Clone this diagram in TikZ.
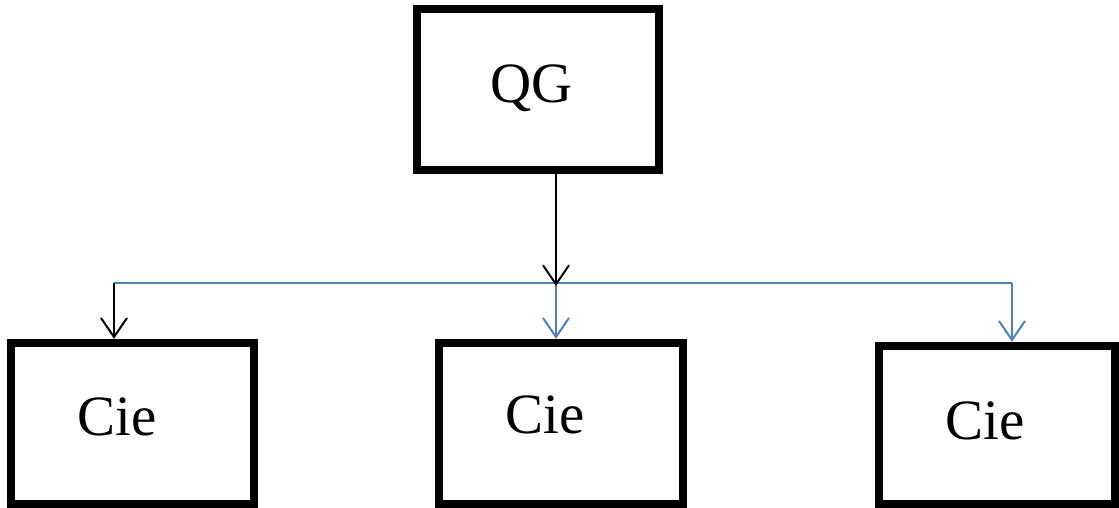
\documentclass[tikz,border=0pt]{standalone}
\usepackage{fontspec}
\setmainfont{Liberation Serif}
\usetikzlibrary{arrows.meta}
\definecolor{linkblue}{RGB}{79,129,189}
\begin{document}
\begin{tikzpicture}[x=1pt,y=-1pt,
  orgbox/.style={draw=black,line width=8.5pt,rectangle,inner sep=0pt,outer sep=4.25pt},
  lbl/.style={font=\fontsize{57}{62}\selectfont,inner sep=0pt},
  blackarrow/.style={draw=black,line width=2pt,-{Straight Barb[length=19pt,width=26pt,line width=2pt]}},
  bluearrow/.style={draw=linkblue,line width=2pt,-{Straight Barb[length=19pt,width=26pt,line width=2pt]}},
  blueline/.style={draw=linkblue,line width=2pt}]
\useasboundingbox (0,0) rectangle (1119,508);
\fill[white] (0,0) rectangle (1119,508);
% boxes
\node[orgbox,minimum width=242pt,minimum height=161pt] (QG) at (538,89.5) {};
\node[orgbox,minimum width=243pt,minimum height=161pt] (L) at (132.5,423.5) {};
\node[orgbox,minimum width=244pt,minimum height=161pt] (M) at (561,423.5) {};
\node[orgbox,minimum width=236pt,minimum height=158pt] (R) at (997,425) {};
% labels
\node[lbl] (tQG) at (532,88) {QG};
\node[lbl] (tL) at (117,417) {Cie};
\node[lbl] (tM) at (545,415) {Cie};
\node[lbl] (tR) at (985,421) {Cie};
% junctions
\coordinate (jL) at (114,283);
\coordinate (jM) at (556,283);
\coordinate (jR) at (1012,283);
% connectors
\draw[blueline] (jL) -- (jR);
\draw[bluearrow] (jM) -- (jM |- M.north);
\draw[bluearrow] (jR) -- (jR |- R.north);
\draw[blackarrow] (jL) -- (jL |- L.north);
\draw[blackarrow] (QG.south -| jM) -- ([yshift=-3pt]jM);
\end{tikzpicture}
\end{document}
